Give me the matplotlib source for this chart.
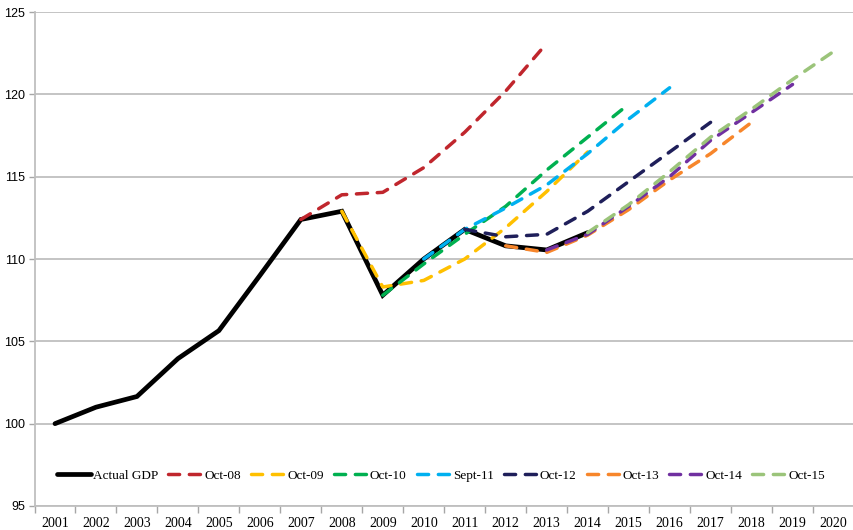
import numpy as np
import matplotlib
matplotlib.use('Agg')
import matplotlib.pyplot as plt

# Years shown on the category axis
years = [str(y) for y in range(2001, 2021)]

# Actual GDP index (2001 = 100), 2001-2014
actual_gdp = [100.0, 101.0, 101.65, 103.95, 105.65, 109.0, 112.4, 112.9,
              107.8, 110.0, 111.8, 110.8, 110.55, 111.6]

# Forecast vintages: (label, first year, values, colour)
oct08 = [112.4, 113.9, 114.05, 115.55, 117.7, 120.2, 123.1]
oct09 = [112.9, 108.3, 108.7, 110.0, 111.9, 114.1, 116.5]
oct10 = [107.8, 109.7, 111.5, 113.2, 115.4, 117.4, 119.4]
sept11 = [110.0, 111.8, 113.1, 114.5, 116.4, 118.5, 120.4]
oct12 = [111.8, 111.35, 111.5, 112.9, 114.7, 116.5, 118.3]
oct13 = [110.8, 110.4, 111.45, 113.0, 114.8, 116.4, 118.3]
oct14 = [110.55, 111.5, 113.2, 115.0, 117.2, 118.9, 120.6]
oct15 = [111.6, 113.3, 115.3, 117.4, 119.1, 120.9, 122.6]

forecasts = [
    ('Oct-08', 2007, oct08, '#C0262D'),
    ('Oct-09', 2008, oct09, '#FFC000'),
    ('Oct-10', 2009, oct10, '#00B050'),
    ('Sept-11', 2010, sept11, '#00B0F0'),
    ('Oct-12', 2011, oct12, '#1F1F5A'),
    ('Oct-13', 2012, oct13, '#F7862B'),
    ('Oct-14', 2013, oct14, '#7030A0'),
    ('Oct-15', 2014, oct15, '#9BC47A'),
]

fig = plt.figure(figsize=(8.54, 5.30), dpi=100)
ax = fig.add_axes([0.0404, 0.0453, 0.9596, 0.932])

x_actual = np.arange(len(actual_gdp))
ax.plot(x_actual, actual_gdp, color='black', linewidth=3.4,
        solid_joinstyle='miter', solid_capstyle='round',
        label='Actual GDP', zorder=3)

for label, start, values, colour in forecasts:
    x = np.arange(len(values)) + (start - 2001)
    ax.plot(x, values, color=colour, linewidth=2.5, linestyle=(0, (3.2, 2.8)),
            dash_capstyle='round', label=label, zorder=4)

# Axes styling
ax.set_xlim(-0.5, 19.5)
ax.set_ylim(95, 125)
ax.set_yticks(np.arange(95, 126, 5))
ax.set_xticks(np.arange(20))
ax.set_xticklabels(years, family='Liberation Serif', fontsize=10)
ax.set_xticks(np.arange(-0.5, 20, 1), minor=True)
ax.tick_params(axis='x', which='major', length=0, pad=8)
ax.tick_params(axis='x', which='minor', length=5, color='#A6A6A6', width=1)
ax.tick_params(axis='y', length=4, color='#A6A6A6', width=1, pad=3,
               labelsize=9)
for lbl in ax.get_yticklabels():
    lbl.set_family('Liberation Sans')

ax.grid(axis='y', color='#BFBFBF', linewidth=1.3)
ax.set_axisbelow(True)
for side in ['top', 'right']:
    ax.spines[side].set_visible(False)
for side in ['left', 'bottom']:
    ax.spines[side].set_color('#BFBFBF')
    ax.spines[side].set_linewidth(1.3)

ax.legend(loc='center', bbox_to_anchor=(0.496, 0.061), ncol=10,
          frameon=False, prop={'family': 'Liberation Serif', 'size': 9.5},
          handlelength=2.6, handletextpad=0.15, columnspacing=0.75,
          borderaxespad=0)

fig.savefig('out.png', dpi=100)
